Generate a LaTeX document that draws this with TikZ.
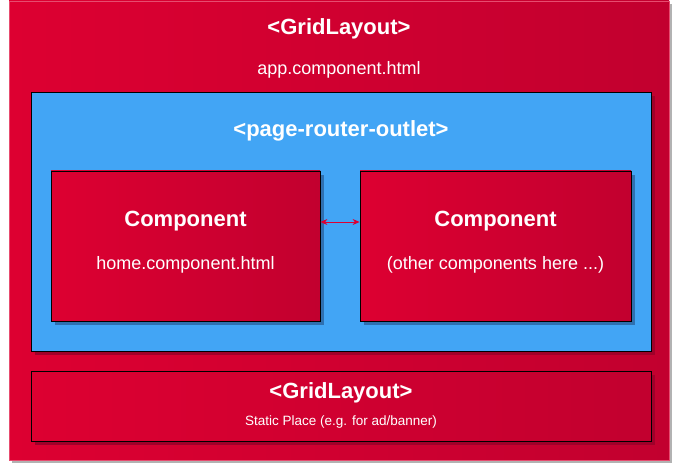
\documentclass[tikz,border=0pt]{standalone}
\usepackage{fontspec}
\setmainfont{Liberation Sans}
\definecolor{redL}{HTML}{DD0031}
\definecolor{redR}{HTML}{C2002F}
\definecolor{redShadow}{HTML}{A0002A}
\definecolor{blueFill}{HTML}{42A5F5}
\definecolor{blueShadow}{HTML}{2F70B0}
\usetikzlibrary{arrows.meta,shadows}
\tikzset{
  outer_box/.style={draw=redL!70!white,left color=redL,right color=redR,
    drop shadow={shadow xshift=3pt,shadow yshift=-3pt,fill=black!30,opacity=1}},
  red_box/.style={draw=black,left color=redL,right color=redR,line width=0.8pt,
    drop shadow={shadow xshift=4pt,shadow yshift=-4pt,fill=redShadow,opacity=1}},
  comp_box/.style={draw=black,left color=redL,right color=redR,line width=0.8pt,
    drop shadow={shadow xshift=4pt,shadow yshift=-4pt,fill=blueShadow,opacity=1}},
  blue_box/.style={draw=black,fill=blueFill,line width=0.8pt,
    drop shadow={shadow xshift=4pt,shadow yshift=-4pt,fill=redShadow,opacity=1}},
  title/.style={text=white,font=\fontsize{22}{26}\selectfont\bfseries},
  subtitle/.style={text=white,font=\fontsize{18}{21}\selectfont},
  small/.style={text=white,font=\fontsize{13.5}{16}\selectfont},
  arr/.style={{Stealth[length=7pt,width=6pt]}-{Stealth[length=7pt,width=6pt]},draw=redL,line width=0.8pt},
}
\begin{document}
\begin{tikzpicture}[x=1pt,y=-1pt]
  \useasboundingbox (0,0) rectangle (673,465);

  \node[outer_box,minimum width=660pt,minimum height=459pt,inner sep=0pt] (app) at (339,230.5) {};
  \node[title] (appT) at (339,29) {<GridLayout>};
  \node[subtitle] (appS) at (339,70) {app.component.html};

  \node[blue_box,minimum width=620pt,minimum height=259pt,inner sep=0pt] (outlet) at (341,221.5) {};
  \node[title] (outletT) at (341,131) {<page-router-outlet>};

  \node[comp_box,minimum width=269pt,minimum height=150pt,inner sep=0pt] (home) at (185.5,246) {};
  \node[title] (homeT) at (185.5,221) {Component};
  \node[subtitle] (homeS) at (185.5,265) {home.component.html};

  \node[comp_box,minimum width=271pt,minimum height=150pt,inner sep=0pt] (other) at (495.5,246) {};
  \node[title] (otherT) at (495.5,221) {Component};
  \node[subtitle] (otherS) at (495.5,265) {(other components here ...)};

  \draw[arr] ([yshift=24pt]home.east) -- ([yshift=24pt]other.west);

  \node[red_box,minimum width=620pt,minimum height=70pt,inner sep=0pt] (banner) at (341,406) {};
  \node[title] (bannerT) at (341,393) {<GridLayout>};
  \node[small] (bannerS) at (341,422) {Static Place (e.g. for ad/banner)};
\end{tikzpicture}
\end{document}
